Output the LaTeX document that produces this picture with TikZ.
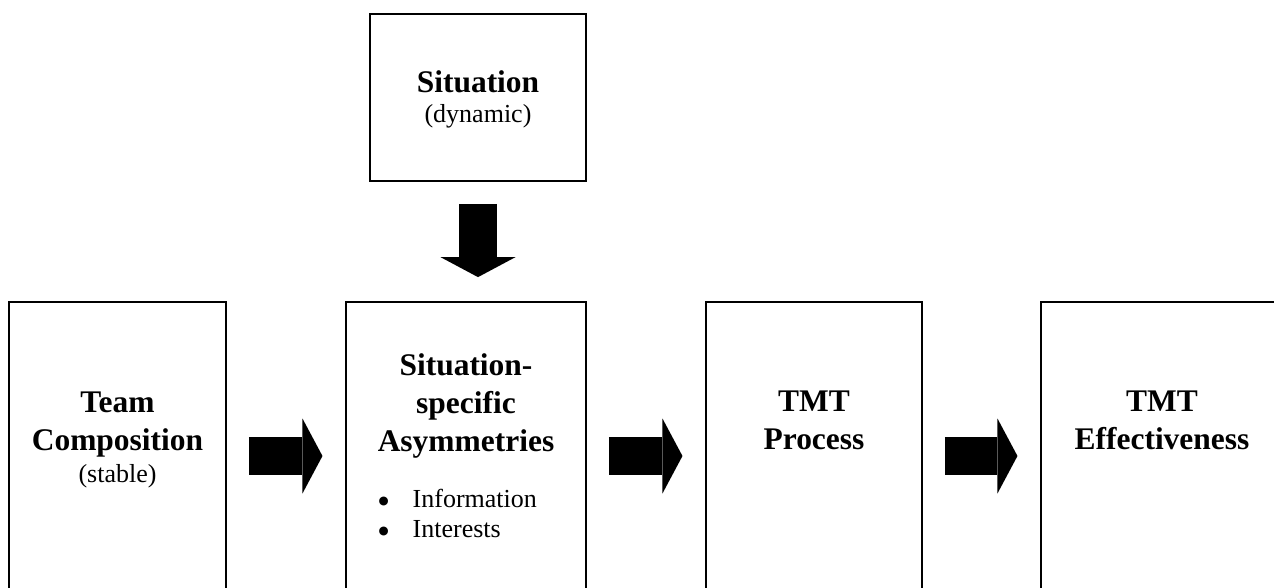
\documentclass[tikz,border=0pt]{standalone}
\usepackage{fontspec}
\setmainfont{Liberation Serif}
\newfontfamily\dotfont{DejaVu Sans}
\usetikzlibrary{arrows.meta,positioning}

\begin{document}
\begin{tikzpicture}[x=0.75pt,y=0.75pt,
            box/.style={draw,line width=1.3pt,inner sep=0pt,minimum height=231pt},
            head/.style={inner sep=0pt,align=center,font=\fontsize{23.6pt}{28.5pt}\selectfont\bfseries},
            note/.style={inner sep=0pt,align=left,font=\fontsize{19.5pt}{22.5pt}\selectfont},
            blk/.style={line width=28.5pt,-{Triangle[width=56.25pt,length=15pt,line width=0pt]},shorten <=16.5pt,shorten >=17pt}]

            \useasboundingbox (0,0) rectangle (1274,587);
            \clip (0,0) rectangle (1274,587);

            \node[box,minimum width=162.75pt] (team) at (117.5,131) {};
            \node[box,minimum width=180pt,right=88.7pt of team] (spec) {};
            \node[box,minimum width=162pt,right=88.7pt of spec] (proc) {};
            \node[box,minimum width=181.5pt,right=87.95pt of proc] (eff) {};
            \node[box,minimum width=162pt,minimum height=125.25pt,above=89.45pt of spec,xshift=9pt] (situ) {};

            \node[head,below=43pt of situ.north] (situtxt) {Situation\\[-6pt]{\mdseries\fontsize{19.5pt}{22.5pt}\selectfont (dynamic)}};
            \node[head,below=67.5pt of team.north] (teamtxt) {Team\\Composition\\[-4.5pt]{\mdseries\fontsize{19.5pt}{22.5pt}\selectfont (stable)}};
            \node[head,below=39.25pt of spec.north] (spectxt) {Situation-\\specific\\Asymmetries};
            \node[note,anchor=north west] (bul) at ([xshift=25pt,yshift=-141pt]spec.north west)
                {\makebox[25.5pt][l]{\raisebox{2.6pt}{\dotfont\fontsize{8.7pt}{8.7pt}\selectfont ●}}Information\\
                 \makebox[25.5pt][l]{\raisebox{2.6pt}{\dotfont\fontsize{8.7pt}{8.7pt}\selectfont ●}}Interests};
            \node[head,below=67pt of proc.north] (proctxt) {TMT\\Process};
            \node[head,below=67pt of eff.north] (efftxt) {TMT\\Effectiveness};

            \draw[blk,shorten >=18pt] (situ.south) -- (situ.south |- spec.north);
            \draw[blk] (team) -- (spec);
            \draw[blk] (spec) -- (proc);
            \draw[blk] (proc) -- (eff);
\end{tikzpicture}
\end{document}
